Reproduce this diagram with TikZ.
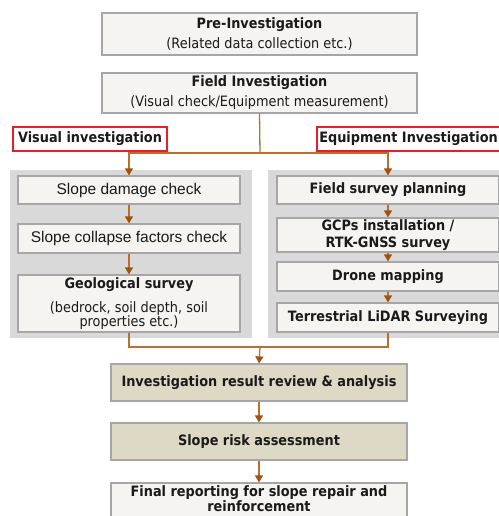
\documentclass[tikz,border=0pt]{standalone}
\usepackage{fontspec}
\setmainfont{DejaVu Sans}[FakeStretch=0.9]
\newfontfamily\arl{Liberation Sans}
\usetikzlibrary{arrows.meta}
\definecolor{boxfill}{HTML}{F5F4F0}
\definecolor{boxline}{HTML}{A6A6A6}
\definecolor{panelgrey}{HTML}{D9D9D9}
\definecolor{beige}{HTML}{DDD9C4}
\definecolor{flowc}{HTML}{B8702F}
\definecolor{tipc}{HTML}{A0520F}
\definecolor{txt}{HTML}{1A1A1A}
\definecolor{labred}{HTML}{F01C24}
\tikzset{
  box/.style={draw=boxline, line width=1.2pt, fill=boxfill, inner sep=0pt, align=center, text=txt},
  beigebox/.style={box, fill=beige},
  panel/.style={fill=panelgrey, draw=none, inner sep=0pt},
  lab/.style={draw=labred, line width=1.1pt, fill=white, inner sep=0pt, text=txt},
  flow/.style={draw=flowc, line width=1.3pt},
  arr/.style={flow, -{Triangle[width=8pt,length=7pt,color=tipc]}},
  bf/.style={font=\fontsize{14.3}{17}\selectfont\bfseries},
}
\begin{document}
\begin{tikzpicture}[x=1pt,y=-1pt]
\useasboundingbox (0,0) rectangle (498,516);
% top boxes
\node[box, minimum width=315pt, minimum height=42pt, font=\fontsize{14.3}{20}\selectfont] (pre) at (259.5,34)
  {\textbf{Pre-Investigation}\\(Related data collection etc.)};
\node[box, minimum width=315pt, minimum height=40pt, font=\fontsize{14.3}{20}\selectfont] (field) at (259.5,93)
  {\textbf{Field Investigation}\\(Visual check/Equipment measurement)};
% labels
\node[lab, bf, minimum width=154pt, minimum height=24pt] (vlab) at (90,139) {Visual investigation};
\node[lab, bf, minimum width=183pt, minimum height=24pt] (elab) at (408.5,139) {Equipment Investigation};
% panels
\node[panel, minimum width=242pt, minimum height=168pt] (lpanel) at (131,254) {};
\node[panel, minimum width=232pt, minimum height=168pt] (rpanel) at (384,254) {};
% left column
\node[box, minimum width=222pt, minimum height=28pt, font=\arl\fontsize{15.5}{18}\selectfont] (damage) at (129,190) {Slope damage check};
\node[box, minimum width=222pt, minimum height=29pt, font=\arl\fontsize{15.5}{18}\selectfont] (collapse) at (129,238.5) {Slope collapse factors check};
\node[box, minimum width=222pt, minimum height=57pt, font=\fontsize{14.3}{12}\selectfont] (geol) at (129,303.5)
  {\textbf{Geological survey}\\[9pt](bedrock, soil depth, soil\\properties etc.)};
% right column
\node[box, bf, minimum width=222pt, minimum height=28pt] (plan) at (388,190) {Field survey planning};
\node[box, bf, minimum width=222pt, minimum height=34pt] (gcp) at (388,235) {GCPs installation /\\RTK-GNSS survey};
\node[box, bf, minimum width=222pt, minimum height=29pt] (drone) at (388,276.5) {Drone mapping};
\node[box, bf, minimum width=222pt, minimum height=29pt] (terr) at (388,317.5) {Terrestrial LiDAR Surveying};
% bottom
\node[beigebox, bf, minimum width=296pt, minimum height=37pt] (review) at (259,382.5) {Investigation result review \& analysis};
\node[beigebox, bf, minimum width=296pt, minimum height=37pt] (risk) at (259,441.5) {Slope risk assessment};
\node[box, minimum width=296pt, minimum height=40pt] (final) at (259,503) {};
\node[font=\fontsize{14.3}{12.5}\selectfont\bfseries, align=center, text=txt, inner sep=0pt] (finaltxt) at (259,498.5)
  {Final reporting for slope repair and\\reinforcement};
% connectors
\coordinate (split) at (260,153);
\coordinate (join) at (260,347);
\draw[flow] (field.south) -- (split);
\draw[arr] (split) -| (damage.north);
\draw[arr] (split) -| (plan.north);
\draw[arr] (damage) -- (collapse);
\draw[arr] (collapse) -- (geol);
\draw[arr] (plan) -- (gcp);
\draw[arr] (gcp) -- (drone);
\draw[arr] (drone) -- (terr);
\draw[flow] (geol.south) |- (join);
\draw[flow] (terr.south) |- (join);
\draw[arr] (join) -- (review.north);
\draw[arr] (review) -- (risk);
\draw[arr] (risk) -- (final);
\end{tikzpicture}
\end{document}
